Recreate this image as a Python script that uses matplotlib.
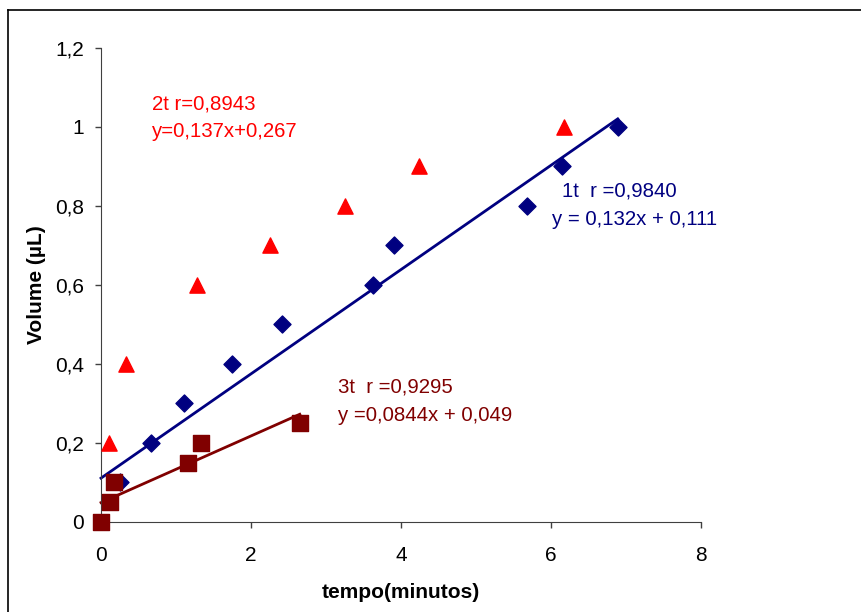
import matplotlib
matplotlib.use("Agg")
import matplotlib.pyplot as plt
import numpy as np
from matplotlib.lines import Line2D

plt.rcParams['font.family'] = ['Liberation Sans', 'DejaVu Sans']

# 1t series (blue diamonds)
x1 = [0.25, 0.67, 1.10, 1.75, 2.41, 3.63, 3.90, 5.68, 6.15, 6.89]
y1 = [0.1, 0.2, 0.3, 0.4, 0.5, 0.6, 0.7, 0.8, 0.9, 1.0]
# 2t series (red triangles)
x2 = [0.10, 0.33, 1.28, 2.25, 3.25, 4.24, 6.17]
y2 = [0.2, 0.4, 0.6, 0.7, 0.8, 0.9, 1.0]
# 3t series (dark red squares)
x3 = [0.0, 0.12, 0.17, 1.16, 1.33, 2.65]
y3 = [0.0, 0.05, 0.1, 0.15, 0.2, 0.25]

fit1 = (0.132, 0.111)
fit3 = (0.0844, 0.049)

navy = "#000080"
red = "#FF0000"
maroon = "#800000"

fig = plt.figure(figsize=(8.62, 6.12), dpi=100)
ax = fig.add_axes([0.1172, 0.1471, 0.696, 0.7745])

# trendlines
xl1 = np.array([0, max(x1)])
ax.plot(xl1, fit1[0] * xl1 + fit1[1], color=navy, lw=2, clip_on=False)
xl3 = np.array([0, max(x3)])
ax.plot(xl3, fit3[0] * xl3 + fit3[1], color=maroon, lw=2, clip_on=False)

ax.scatter(x1, y1, marker="D", s=75, color=navy, zorder=3, clip_on=False)
ax.scatter(x2, y2, marker="^", s=120, color=red, zorder=3, clip_on=False)
ax.scatter(x3, y3, marker="s", s=120, color=maroon, zorder=3, clip_on=False)

ax.set_xlim(0, 8)
ax.set_ylim(0, 1.2)
ax.set_xticks([0, 2, 4, 6, 8])
ax.set_yticks([0, 0.2, 0.4, 0.6, 0.8, 1.0, 1.2])
ax.set_yticklabels(["0", "0,2", "0,4", "0,6", "0,8", "1", "1,2"])
ax.tick_params(direction="out", length=4.5, width=1, labelsize=15, color="#404040")
ax.tick_params(axis="y", pad=8)
ax.tick_params(axis="x", pad=13)
for s in ["top", "right"]:
    ax.spines[s].set_visible(False)
for s in ["left", "bottom"]:
    ax.spines[s].set_color("#404040")

ax.set_xlabel("tempo(minutos)", fontsize=15, fontweight="bold", labelpad=13)
ax.set_ylabel("Volume (µL)", fontsize=15, fontweight="bold", labelpad=6)

ax.text(0.68, 1.043, "2t r=0,8943", color=red, fontsize=14.7)
ax.text(0.68, 0.975, "y=0,137x+0,267", color=red, fontsize=14.7)
ax.text(6.15, 0.823, "1t  r =0,9840", color=navy, fontsize=14.7)
ax.text(6.01, 0.752, "y = 0,132x + 0,111", color=navy, fontsize=14.7)
ax.text(3.16, 0.329, "3t  r =0,9295", color=maroon, fontsize=14.7)
ax.text(3.16, 0.256, "y =0,0844x + 0,049", color=maroon, fontsize=14.7)

# chart area border (left and top visible)
fig.add_artist(Line2D([8 / 862, 8 / 862], [0, 1 - 10 / 612], color="black", lw=1.2))
fig.add_artist(Line2D([8 / 862, 1], [1 - 10 / 612, 1 - 10 / 612], color="black", lw=1.2))

fig.savefig("out.png", dpi=100)
